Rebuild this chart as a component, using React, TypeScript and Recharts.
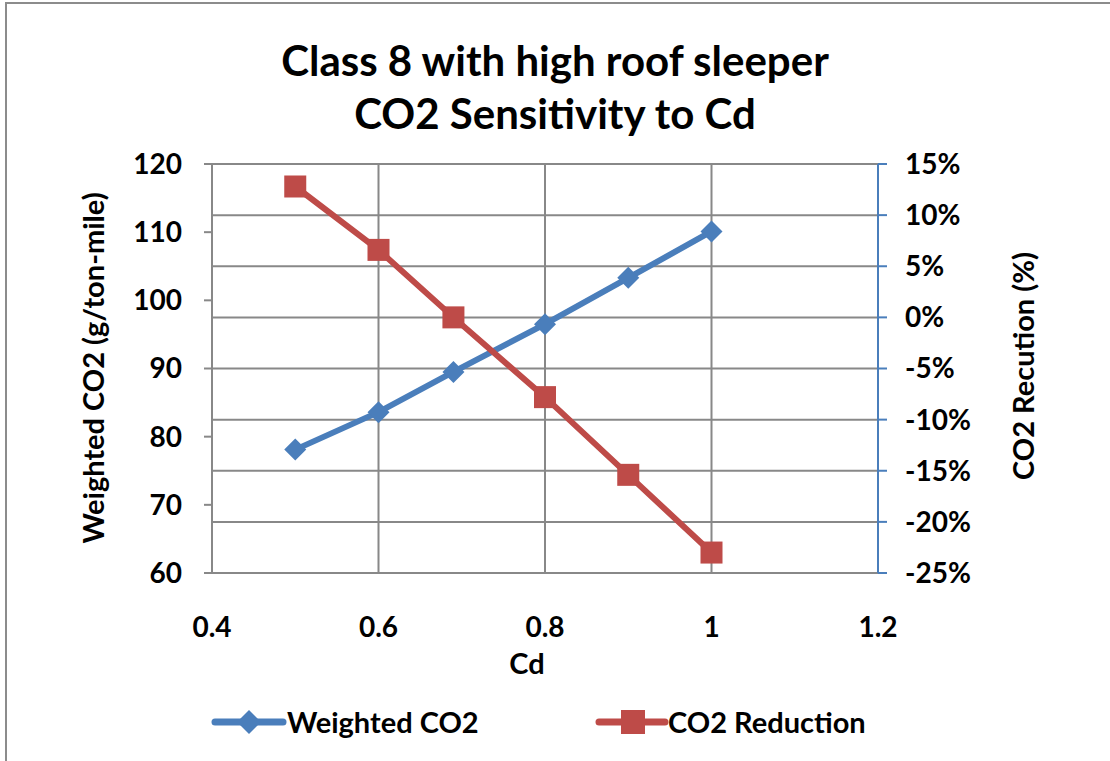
import { LineChart, Line, XAxis, YAxis, CartesianGrid } from 'recharts';

const cdValues = [0.5, 0.6, 0.69, 0.8, 0.9, 1.0];
const weightedCO2 = [78.1, 83.6, 89.5, 96.5, 103.3, 110.1];
const co2Reduction = [12.8, 6.6, 0, -7.8, -15.4, -23.0];
const xTicks = [0.4, 0.6, 0.8, 1, 1.2];
const leftTicks = [60, 70, 80, 90, 100, 110, 120];
const rightTicks = [-25, -20, -15, -10, -5, 0, 5, 10, 15];

const data = cdValues.map((cd, i) => ({
  cd,
  weighted: weightedCO2[i],
  reduction: co2Reduction[i],
}));

const FONT = 'Lato, "Open Sans", sans-serif';
const BLUE = '#4a7ebb';
const RED = '#be4b48';
const GRID = '#888888';

const tickStyle = { fill: '#000', fontSize: 28, fontWeight: 700, fontFamily: FONT };

const Diamond = (props: any) => {
  const { cx, cy, index } = props;
  const r = 11;
  return (
    <polygon
      key={`d-${index}`}
      points={`${cx},${cy - r} ${cx + r},${cy} ${cx},${cy + r} ${cx - r},${cy}`}
      fill={BLUE}
    />
  );
};

const Square = (props: any) => {
  const { cx, cy, index } = props;
  const s = 11;
  return <rect key={`s-${index}`} x={cx - s} y={cy - s} width={s * 2} height={s * 2} fill={RED} />;
};

const labelBase: any = {
  position: 'absolute',
  fontFamily: FONT,
  fontWeight: 700,
  color: '#000',
  whiteSpace: 'nowrap',
};

export default function App() {
  return (
    <div style={{ position: 'absolute', left: 0, top: 0, width: 1110, height: 761, overflow: 'hidden', background: '#fff' }}>
      <div style={{ position: 'absolute', left: 5, top: 2, width: 1300, height: 900, border: '2px solid #8c8c8c' }} />

      <div style={{ ...labelBase, left: 0, width: 1110, top: 34, textAlign: 'center', fontSize: 42, lineHeight: '53px' }}>
        Class 8 with high roof sleeper
        <br />
        CO2 Sensitivity to Cd
      </div>

      <LineChart
        width={1110}
        height={761}
        data={data}
        margin={{ top: 164, right: 0, bottom: 0, left: 0 }}
        style={{ position: 'absolute', left: 0, top: 0 }}
      >
        <CartesianGrid yAxisId="right" stroke={GRID} strokeWidth={2} />
        <XAxis
          dataKey="cd"
          type="number"
          domain={[0.4, 1.2]}
          ticks={xTicks}
          height={188}
          tickLine={false}
          tickMargin={38}
          stroke={GRID}
          strokeWidth={2}
          tick={tickStyle}
        />
        <YAxis
          yAxisId="left"
          width={212}
          domain={[60, 120]}
          ticks={leftTicks}
          tickSize={8}
          tickMargin={22}
          stroke={GRID}
          strokeWidth={2}
          tick={tickStyle}
        />
        <YAxis
          yAxisId="right"
          orientation="right"
          width={232}
          domain={[-25, 15]}
          ticks={rightTicks}
          tickFormatter={(v: number) => `${v}%`}
          tickSize={9}
          tickMargin={18}
          stroke={BLUE}
          strokeWidth={2}
          tick={tickStyle}
        />
        <Line
          yAxisId="left"
          type="linear"
          dataKey="weighted"
          stroke={BLUE}
          strokeWidth={6}
          dot={Diamond}
          isAnimationActive={false}
        />
        <Line
          yAxisId="right"
          type="linear"
          dataKey="reduction"
          stroke={RED}
          strokeWidth={6}
          dot={Square}
          isAnimationActive={false}
        />
      </LineChart>

      <div style={{ ...labelBase, left: 92, top: 368, fontSize: 29, transform: 'translate(-50%, -50%) rotate(-90deg)' }}>
        Weighted CO2 (g/ton-mile)
      </div>
      <div style={{ ...labelBase, left: 1022, top: 366, fontSize: 29, transform: 'translate(-50%, -50%) rotate(-90deg)' }}>
        CO2 Recution (%)
      </div>
      <div style={{ ...labelBase, left: 527, top: 662, fontSize: 29, transform: 'translate(-50%, -50%)' }}>Cd</div>

      <div style={{ ...labelBase, left: 0, top: 702, width: 1110, height: 40, fontSize: 29 }}>
        <svg style={{ position: 'absolute', left: 210, top: 0 }} width={80} height={40}>
          <line x1={5} y1={20} x2={73} y2={20} stroke={BLUE} strokeWidth={7} strokeLinecap="round" />
          <polygon points="39,8 51,20 39,32 27,20" fill={BLUE} />
        </svg>
        <span style={{ position: 'absolute', left: 287, top: 2 }}>Weighted CO2</span>
        <svg style={{ position: 'absolute', left: 594, top: 0 }} width={76} height={40}>
          <line x1={5} y1={20} x2={71} y2={20} stroke={RED} strokeWidth={7} strokeLinecap="round" />
          <rect x={27} y={8} width={24} height={24} fill={RED} />
        </svg>
        <span style={{ position: 'absolute', left: 668, top: 2 }}>CO2 Reduction</span>
      </div>
    </div>
  );
}
